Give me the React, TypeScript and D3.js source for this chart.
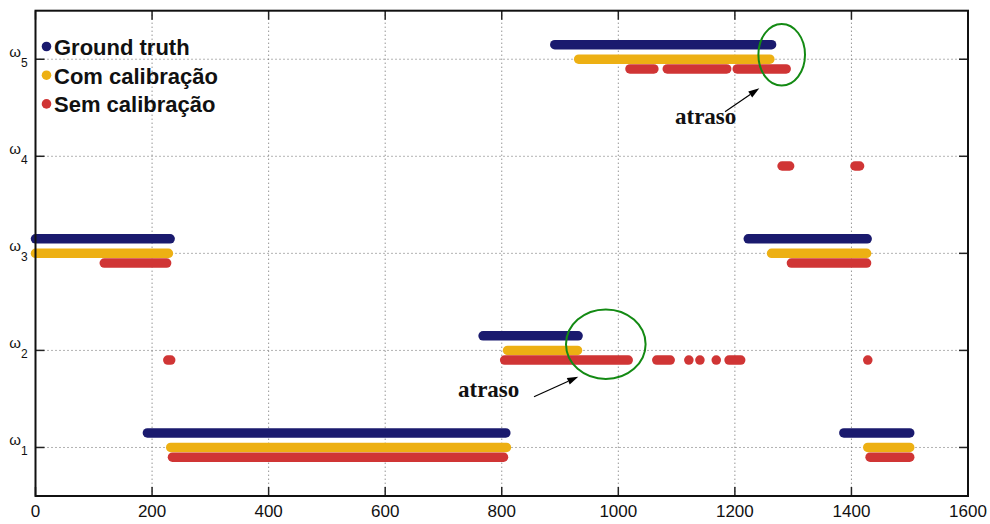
import React from "react";
import * as d3 from "d3";

// [state, start, end]
const groundTruth: [number, number, number][] = [
  [3, 0, 231],
  [1, 192, 807],
  [2, 768, 931],
  [5, 891, 1263],
  [3, 1223, 1427],
  [1, 1387, 1500],
];
const withCal: [number, number, number][] = [
  [3, 0, 228],
  [1, 232, 808],
  [2, 810, 930],
  [5, 932, 1260],
  [3, 1263, 1426],
  [1, 1428, 1500],
];
const withoutCal: [number, number, number][] = [
  [3, 118, 225],
  [2, 227, 232],
  [1, 235, 803],
  [2, 805, 1017],
  [2, 1066, 1089],
  [2, 1121, 1121],
  [2, 1140, 1140],
  [2, 1168, 1168],
  [2, 1190, 1210],
  [5, 1020, 1061],
  [5, 1084, 1186],
  [5, 1204, 1288],
  [4, 1281, 1294],
  [4, 1406, 1414],
  [3, 1297, 1426],
  [2, 1428, 1428],
  [1, 1432, 1500],
];
const xTicks = [0, 200, 400, 600, 800, 1000, 1200, 1400, 1600];
const yTicks = [1, 2, 3, 4, 5];
const yTickLabels = ["1", "2", "3", "4", "5"];
const legendLabels = ["Ground truth", "Com calibração", "Sem calibração"];

const COLORS = ["#1a1a6e", "#edb013", "#d03535"];
const OFFSETS = [0.15, 0, -0.1];

export default function App() {
  const L = 35.5, R = 968, T = 10.7, B = 496;
  const x = d3.scaleLinear().domain([0, 1600]).range([L, R]);
  const y = d3.scaleLinear().domain([0.5, 5.5]).range([B, T]);
  const series = [groundTruth, withCal, withoutCal];
  const line = d3.line<[number, number]>().x((d) => d[0]).y((d) => d[1]);

  const gridX = xTicks.filter((t) => t > 0 && t < 1600);

  const arrow = (x1: number, y1: number, x2: number, y2: number) => {
    const ang = Math.atan2(y2 - y1, x2 - x1);
    const len = 11, w = 3.5;
    const bx = x2 - len * Math.cos(ang), by = y2 - len * Math.sin(ang);
    const px = -Math.sin(ang) * w, py = Math.cos(ang) * w;
    return (
      <g>
        <line x1={x1} y1={y1} x2={bx} y2={by} stroke="#000" strokeWidth={1.2} />
        <path d={`M${x2},${y2}L${bx + px},${by + py}L${bx - px},${by - py}Z`} fill="#000" />
      </g>
    );
  };

  return (
    <svg
      width={990}
      height={524}
      style={{ position: "absolute", left: 0, top: 0, background: "#fff" }}
      fontFamily="'Liberation Sans', Arial, sans-serif"
    >
      <rect x={0} y={0} width={990} height={524} fill="#fff" />
      {/* grid */}
      {gridX.map((t) => (
        <line key={"gx" + t} x1={x(t)} x2={x(t)} y1={T} y2={B} stroke="#666" strokeWidth={1} strokeDasharray="1,3" />
      ))}
      {yTicks.map((t) => (
        <line key={"gy" + t} x1={L} x2={R} y1={y(t)} y2={y(t)} stroke="#666" strokeWidth={1} strokeDasharray="1,3" />
      ))}
      {/* ticks */}
      {xTicks.map((t) => (
        <g key={"tx" + t}>
          <line x1={x(t)} x2={x(t)} y1={B} y2={B - 9} stroke="#222" strokeWidth={1.5} />
          <line x1={x(t)} x2={x(t)} y1={T} y2={T + 9} stroke="#222" strokeWidth={1.5} />
          <text x={x(t)} y={517} fontSize={17} textAnchor="middle" fill="#111">
            {t}
          </text>
        </g>
      ))}
      {yTicks.map((t, i) => (
        <g key={"ty" + t}>
          <line x1={L} x2={L + 9} y1={y(t)} y2={y(t)} stroke="#222" strokeWidth={1.5} />
          <line x1={R} x2={R - 9} y1={y(t)} y2={y(t)} stroke="#222" strokeWidth={1.5} />
          <text x={9.3} y={y(t) - 2} fontSize={15} fill="#111">ω</text>
          <text x={21} y={y(t) + 7.5} fontSize={12} fill="#111">{yTickLabels[i]}</text>
        </g>
      ))}
      {/* data */}
      {series.map((segs, si) => (
        <g key={"s" + si}>
          {segs.map((s, k) => {
            const yy = y(s[0] + OFFSETS[si]);
            const x1 = x(s[1]);
            const x2 = s[2] === s[1] ? x(s[2]) + 0.05 : x(s[2]);
            return (
              <path
                key={k}
                d={line([[x1, yy], [x2, yy]]) || ""}
                stroke={COLORS[si]}
                strokeWidth={9.5}
                strokeLinecap="round"
                fill="none"
              />
            );
          })}
        </g>
      ))}
      {/* frame */}
      <rect x={L} y={T} width={R - L} height={B - T} fill="none" stroke="#111" strokeWidth={2} />
      {/* legend */}
      {legendLabels.map((lab, i) => (
        <g key={"lg" + i}>
          <circle cx={46.5} cy={46.5 + i * 28.7} r={4.8} fill={COLORS[i]} />
          <text x={54} y={55 + i * 28.7} fontSize={22} fontWeight="bold" fill="#111">
            {lab}
          </text>
        </g>
      ))}
      {/* annotations */}
      <ellipse cx={781.7} cy={54.8} rx={23.3} ry={30.8} fill="none" stroke="#138a13" strokeWidth={2} />
      <ellipse cx={605.8} cy={344.2} rx={39.8} ry={34.8} fill="none" stroke="#138a13" strokeWidth={2} />
      {arrow(725, 111.7, 759.3, 88.3)}
      {arrow(534, 396.7, 578.3, 376.7)}
      <text x={675} y={123.5} fontSize={23} fontWeight="bold" fontFamily="'Liberation Serif', 'Times New Roman', serif" fill="#111">
        atraso
      </text>
      <text x={458} y={397} fontSize={23} fontWeight="bold" fontFamily="'Liberation Serif', 'Times New Roman', serif" fill="#111">
        atraso
      </text>
    </svg>
  );
}
